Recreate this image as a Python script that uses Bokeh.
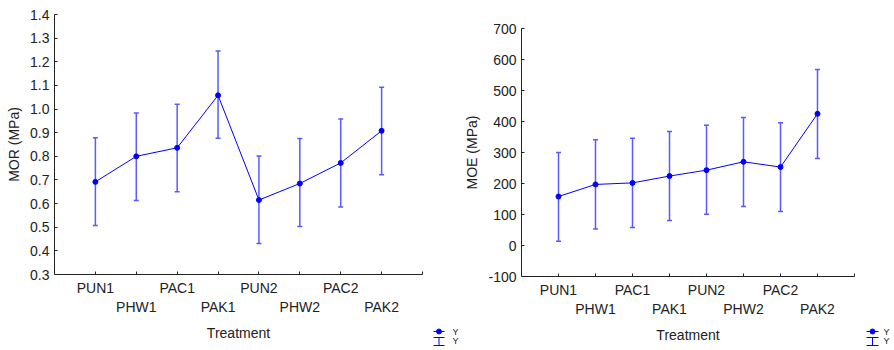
from bokeh.plotting import figure
from bokeh.models import (Range1d, FixedTicker, LinearAxis, Whisker, TeeHead,
                          ColumnDataSource, PrintfTickFormatter, Spacer)
from bokeh.core.properties import value
from bokeh.layouts import row, column
from bokeh.embed import file_html
from bokeh.resources import INLINE

categories = ["PUN1", "PHW1", "PAC1", "PAK1", "PUN2", "PHW2", "PAC2", "PAK2"]
mor_mean = [0.692, 0.800, 0.836, 1.058, 0.615, 0.685, 0.772, 0.908]
mor_upper = [0.879, 0.983, 1.020, 1.246, 0.801, 0.875, 0.958, 1.092]
mor_lower = [0.507, 0.613, 0.650, 0.876, 0.431, 0.503, 0.586, 0.722]
moe_mean = [158, 197, 202, 224, 243, 270, 253, 425]
moe_upper = [300, 341, 346, 368, 388, 413, 396, 568]
moe_lower = [14, 53, 58, 81, 101, 126, 110, 281]
mor_ticks = [0.3, 0.4, 0.5, 0.6, 0.7, 0.8, 0.9, 1.0, 1.1, 1.2, 1.3, 1.4]
moe_ticks = [-100, 0, 100, 200, 300, 400, 500, 600, 700]
legend_labels = ["Y", "Y"]

FONT = "Liberation Sans"
FS = "14px"
BLUE = "#0000ff"
ERR = "#5a5aff"
INK = "#222222"


def make_chart(mean, upper, lower, ticks, fmt, ylabel, bl, br, bt, fw, fh):
    n = len(categories)
    xs = list(range(1, n + 1))
    p = figure(frame_width=fw, frame_height=fh, output_backend="svg",
               toolbar_location=None, title=None, x_range=Range1d(0, n + 1),
               y_range=Range1d(ticks[0], ticks[-1]), min_border_left=bl,
               min_border_right=br, min_border_top=bt, min_border_bottom=0,
               x_axis_location=None)
    p.outline_line_color = None
    p.grid.visible = False

    src = ColumnDataSource(dict(x=xs, y=mean, up=upper, lo=lower))
    w = Whisker(source=src, base="x", upper="up", lower="lo",
                dimension="height", line_color=ERR, line_width=1.5,
                upper_head=TeeHead(size=5, line_color=ERR, line_width=1.5),
                lower_head=TeeHead(size=5, line_color=ERR, line_width=1.5))
    p.add_layout(w)
    p.line("x", "y", source=src, line_color=BLUE, line_width=1)
    p.scatter("x", "y", source=src, size=5, fill_color=BLUE, line_color=BLUE)

    ya = p.yaxis[0]
    ya.ticker = FixedTicker(ticks=ticks)
    ya.formatter = PrintfTickFormatter(format=fmt)
    ya.axis_label = ylabel
    ya.axis_label_text_font = FONT
    ya.axis_label_text_font_size = FS
    ya.axis_label_text_font_style = "normal"
    ya.axis_label_text_color = INK
    ya.axis_label_standoff = 5
    ya.major_label_text_font = FONT
    ya.major_label_text_font_size = FS
    ya.major_label_text_color = INK
    ya.major_label_standoff = 5
    ya.major_tick_in = 3
    ya.major_tick_out = 0
    ya.minor_tick_in = 0
    ya.minor_tick_out = 0
    ya.axis_line_color = INK
    ya.major_tick_line_color = INK

    tick_pos = list(range(1, n + 2))
    odd = {i + 1: (c if i % 2 == 0 else "") for i, c in enumerate(categories)}
    odd[n + 1] = ""
    even = {i + 1: (c if i % 2 == 1 else "") for i, c in enumerate(categories)}
    even[n + 1] = ""
    xa1 = LinearAxis(ticker=FixedTicker(ticks=tick_pos), major_label_overrides=odd,
                     major_tick_in=3, major_tick_out=0, minor_tick_in=0,
                     minor_tick_out=0, axis_line_color=INK,
                     major_tick_line_color=INK,
                     major_label_text_font=FONT, major_label_text_font_size=FS,
                     major_label_text_color=INK, major_label_standoff=5)
    xa2 = LinearAxis(ticker=FixedTicker(ticks=tick_pos), major_label_overrides=even,
                     major_tick_in=0, major_tick_out=0, minor_tick_in=0,
                     minor_tick_out=0, axis_line_color=None,
                     major_tick_line_color=None,
                     major_label_text_font=FONT, major_label_text_font_size=FS,
                     major_label_text_color=INK, major_label_standoff=0,
                     axis_label="Treatment", axis_label_text_font=FONT,
                     axis_label_text_font_size=FS,
                     axis_label_text_color=INK,
                     axis_label_text_font_style="normal",
                     axis_label_standoff=7)
    p.add_layout(xa1, "below")
    p.add_layout(xa2, "below")
    return p


def make_legend(width, height, lx0, lx1, y1, y2, tx):
    lf = figure(frame_width=width, frame_height=height, output_backend="svg",
                toolbar_location=None, title=None, x_range=Range1d(0, width),
                y_range=Range1d(height, 0), min_border=0,
                x_axis_location=None, y_axis_location=None)
    lf.outline_line_color = None
    lf.grid.visible = False
    cx = (lx0 + lx1) / 2
    lf.line([lx0, lx1], [y1, y1], line_color=BLUE, line_width=1)
    lf.scatter([cx], [y1], size=5, fill_color=BLUE, line_color=BLUE)
    lf.segment(x0=[cx, lx0, lx0], y0=[y2 - 4, y2 - 4, y2 + 4],
               x1=[cx, lx1, lx1], y1=[y2 + 4, y2 - 4, y2 + 4],
               line_color=BLUE, line_width=1)
    lf.text(x=[tx, tx], y=[y1, y2 - 1], text=legend_labels,
            text_font=value(FONT), text_font_size="9px", text_color=INK,
            text_baseline="middle", text_align="left")
    return lf


p1 = make_chart(mor_mean, mor_upper, mor_lower, mor_ticks, "%.1f", "MOR (MPa)",
                54, 8, 14, 368, 260)
p2 = make_chart(moe_mean, moe_upper, moe_lower, moe_ticks, "%d", "MOE (MPa)",
                61, 4, 28, 333, 248)
leg1 = make_legend(30, 30, 3, 14, 11, 21, 22)
leg2 = make_legend(36, 30, 8, 20, 11, 21, 25)

layout = row(column(p1), column(Spacer(width=30, height=320), leg1, spacing=0),
             column(p2), column(Spacer(width=36, height=320), leg2, spacing=0),
             spacing=0)
open("out.html", "w").write(file_html(layout, INLINE))
